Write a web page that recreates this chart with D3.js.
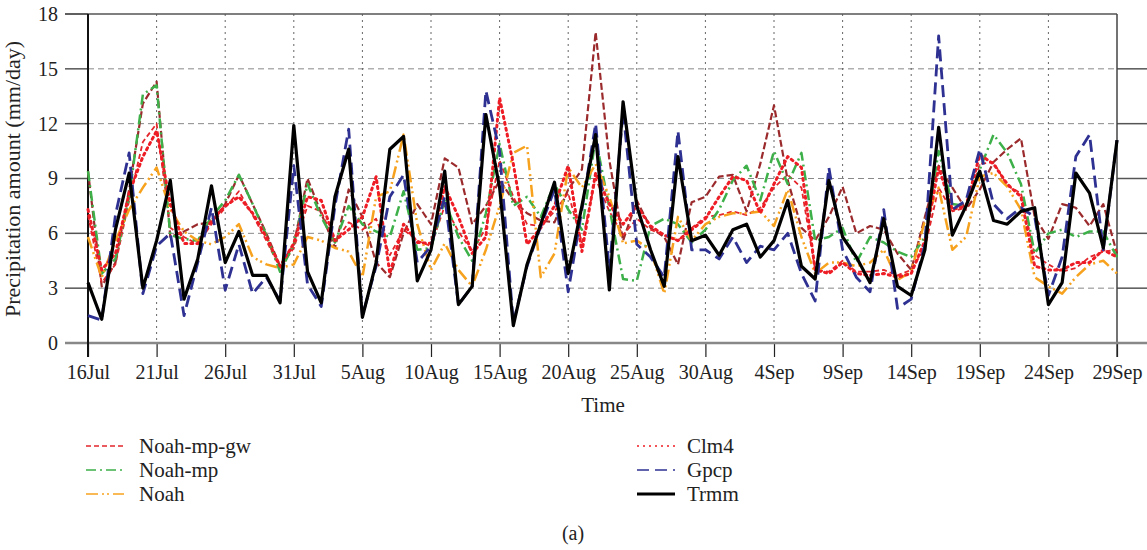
<!DOCTYPE html>
<html><head><meta charset="utf-8">
<script src="https://cdn.jsdelivr.net/npm/d3@7"></script>
<style>body{margin:0;background:#fff}svg{display:block}text{font-family:"Liberation Serif","Times New Roman",serif;fill:#222}</style>
</head><body><svg id="c" width="1147" height="550"></svg>
<script>
const tickLabels = ["16Jul","21Jul","26Jul","31Jul","5Aug","10Aug","15Aug","20Aug","25Aug","30Aug","4Sep","9Sep","14Sep","19Sep","24Sep","29Sep"];
const yTicks = [0,3,6,9,12,15,18];

const trmm = [3.3,1.3,6.2,9.3,3.0,5.6,8.9,2.4,4.6,8.6,4.4,6.1,3.7,3.7,2.2,11.9,3.9,2.2,8.0,10.6,1.4,4.4,10.6,11.3,3.4,5.1,9.4,2.1,3.1,12.5,8.5,0.95,4.3,6.5,8.8,3.8,7.5,11.4,2.9,13.2,7.5,5.1,3.1,10.2,5.6,5.9,4.8,6.2,6.5,4.7,5.6,7.8,4.2,3.5,8.9,5.8,4.7,3.3,6.8,3.1,2.6,5.1,11.8,5.9,7.5,9.4,6.7,6.5,7.2,7.4,2.1,3.3,9.3,8.2,5.2,11.1];
const gpcp = [1.5,1.25,7.0,10.4,2.7,5.3,6.0,1.5,4.4,7.4,2.9,5.4,2.7,3.6,2.3,9.7,3.2,2.0,7.5,11.7,1.5,4.2,8.0,9.2,4.4,5.3,8.0,2.1,3.1,13.8,10.5,1.1,4.2,6.4,8.4,2.8,7.3,12.0,4.0,12.7,5.4,4.7,3.6,11.6,5.1,5.1,4.6,5.8,4.4,5.3,5.1,6.0,3.8,2.3,9.6,5.1,3.6,2.8,7.3,1.9,2.4,5.4,16.8,7.3,7.8,10.6,7.6,6.8,7.4,6.9,2.6,4.7,10.2,11.4,5.1,11.1];
const noahMp = [9.4,3.8,4.6,8.0,13.6,14.1,5.9,5.7,5.6,6.9,7.8,9.2,7.6,5.9,3.9,5.4,8.7,6.9,5.5,7.5,6.5,6.1,5.8,8.3,5.1,5.2,7.8,5.8,4.5,7.1,10.9,7.5,8.0,6.9,8.7,7.3,6.2,11.2,7.4,3.5,3.4,6.4,6.8,6.5,5.5,6.2,7.3,8.9,9.7,7.8,10.5,8.7,10.4,5.6,5.8,6.3,4.4,5.8,5.5,5.0,4.7,5.8,10.5,7.6,7.5,9.5,11.4,10.4,8.7,4.9,6.0,6.2,5.8,6.1,6.1,4.7];
const brownSeries = [9.4,3.1,4.4,8.4,13.1,14.3,5.8,6.1,6.5,6.6,7.6,9.2,7.6,6.0,4.2,5.4,9.0,7.1,5.2,8.4,6.9,4.4,3.6,6.0,7.6,6.5,10.1,9.6,6.5,7.5,8.9,7.8,7.1,6.7,6.6,8.4,9.5,17.0,10.0,5.6,7.8,6.3,5.8,4.3,7.7,8.0,9.1,9.2,7.2,9.8,13.0,8.9,6.3,5.6,6.9,8.55,6.0,6.4,6.2,4.9,4.0,6.9,9.7,8.5,7.3,8.4,9.9,10.6,11.2,6.9,5.7,7.6,7.4,6.4,7.6,4.9];
const noah = [5.8,3.6,5.6,7.3,8.5,9.6,7.3,6.1,5.6,5.4,5.8,6.5,4.7,4.3,4.1,4.3,5.8,5.6,5.2,5.0,3.6,8.0,8.3,11.4,6.5,4.0,5.45,4.0,3.1,5.1,7.5,10.4,10.8,3.6,4.9,9.6,8.5,9.8,8.0,5.45,5.6,5.1,2.7,6.9,5.6,6.5,6.9,7.1,7.1,7.2,6.4,8.4,5.8,3.8,4.4,4.4,4.2,4.4,5.1,3.45,3.9,6.7,8.5,5.1,5.8,9.1,9.3,8.55,7.3,3.6,3.1,2.7,3.6,4.3,4.5,3.8];
const clm4 = [7.3,4.0,4.9,8.2,10.2,11.6,7.6,5.45,5.45,6.7,7.5,8.0,7.1,5.8,4.2,5.45,8.0,7.8,5.6,6.2,6.9,9.1,3.8,6.5,5.5,5.45,8.55,6.9,4.9,5.8,13.4,9.8,5.4,6.3,7.5,9.7,5.0,9.3,7.6,6.5,7.5,6.4,5.9,5.6,6.2,6.8,8.0,9.1,8.9,7.1,8.7,10.2,9.6,4.0,3.8,4.4,3.8,3.7,3.8,3.6,3.8,5.6,9.6,7.3,7.5,10.3,9.8,8.7,8.0,4.2,4.0,4.0,4.4,4.4,5.1,4.7];
const noahMpGw = [7.0,3.3,4.3,7.8,11.0,12.0,6.3,5.8,5.4,6.5,7.4,8.3,7.0,5.6,4.1,5.2,7.5,7.2,5.5,6.6,6.2,6.8,4.8,6.2,5.6,5.3,7.5,6.1,5.0,6.3,10.0,8.0,6.5,6.4,7.2,8.2,5.5,9.0,7.2,5.9,6.8,6.2,5.9,5.6,6.3,6.9,7.0,7.2,7.0,7.4,8.5,9.2,8.5,4.0,3.9,4.5,3.9,3.9,4.0,3.7,4.0,5.2,8.5,7.2,7.4,9.8,9.9,8.6,8.2,4.8,4.3,3.9,4.1,4.7,5.0,5.1];

const series = [
  {name:null, values:brownSeries, color:"#9b2a2c", width:2.2, dash:"7,3"},
  {name:"Noah-mp-gw", values:noahMpGw, color:"#e3262b", width:1.8, dash:"5,3"},
  {name:"Noah-mp", values:noahMp, color:"#3db049", width:2.5, dash:"10,4,2,4"},
  {name:"Noah", values:noah, color:"#f7a21e", width:2.5, dash:"12,4,2,3,2,4"},
  {name:"Clm4", values:clm4, color:"#ee1c24", width:3, dash:"2,4"},
  {name:"Gpcp", values:gpcp, color:"#2e3192", width:2.8, dash:"12,6"},
  {name:"Trmm", values:trmm, color:"#000", width:3.2, dash:null}
];

const svg = d3.select("#c");
const L=88, R=1117, T=14, B=343;
const x = d3.scaleLinear().domain([0,75]).range([L,R]);
const y = d3.scaleLinear().domain([0,18]).range([B,T]);

yTicks.forEach(v=>{
  if(v>0 && v<18) svg.append("line").attr("x1",L).attr("x2",R).attr("y1",y(v)).attr("y2",y(v)).attr("stroke","#888").attr("stroke-width",1).attr("stroke-dasharray","6,4");
  svg.append("line").attr("x1",65).attr("x2",L).attr("y1",y(v)).attr("y2",y(v)).attr("stroke","#555").attr("stroke-width",1.5);
  if(v>0 && v<18) svg.append("line").attr("x1",R).attr("x2",1147).attr("y1",y(v)).attr("y2",y(v)).attr("stroke","#555").attr("stroke-width",1.5);
});
const xt = d3.range(0,76,5);
xt.forEach(d=>{
  if(d>0 && d<75) svg.append("line").attr("x1",x(d)).attr("x2",x(d)).attr("y1",T).attr("y2",B).attr("stroke","#666").attr("stroke-width",1).attr("stroke-dasharray","2,4");
});
svg.append("line").attr("x1",65).attr("x2",R).attr("y1",T).attr("y2",T).attr("stroke","#555").attr("stroke-width",1.5);
svg.append("line").attr("x1",R).attr("x2",R).attr("y1",T).attr("y2",357).attr("stroke","#444").attr("stroke-width",1.5);

const xAxis = d3.axisBottom(x).tickValues(xt).tickFormat((d,i)=>tickLabels[i]).tickSize(14).tickPadding(8);
const gx = svg.append("g").attr("transform",`translate(0,${B})`).call(xAxis);
gx.select(".domain").remove();
gx.selectAll(".tick line").attr("stroke","#222").attr("stroke-width",1.2);
gx.selectAll(".tick text").attr("font-size",20).attr("font-family","Liberation Serif").attr("fill","#222");
const yAxis = d3.axisLeft(y).tickValues(yTicks).tickSize(0).tickPadding(30);
const gy = svg.append("g").attr("transform",`translate(${L},0)`).call(yAxis);
gy.select(".domain").remove();
gy.selectAll(".tick text").attr("font-size",20).attr("font-family","Liberation Serif").attr("fill","#222");

svg.append("line").attr("x1",65).attr("x2",1147).attr("y1",B).attr("y2",B).attr("stroke","#888").attr("stroke-width",2.5);
svg.append("line").attr("x1",L).attr("x2",L).attr("y1",T).attr("y2",357).attr("stroke","#111").attr("stroke-width",2);

const line = d3.line().x((d,i)=>x(i)).y(d=>y(d));
series.forEach(s=>{
  svg.append("path").datum(s.values).attr("d",line).attr("fill","none")
    .attr("stroke",s.color).attr("stroke-width",s.width)
    .attr("stroke-dasharray",s.dash).attr("stroke-linejoin","round")
    .attr("stroke-linecap", s.dash==="2,4" ? "round" : "butt");
});

svg.append("text").attr("transform","translate(20,179) rotate(-90)").attr("text-anchor","middle").attr("font-size",22).text("Precipitation amount (mm/day)");
svg.append("text").attr("x",603).attr("y",412).attr("text-anchor","middle").attr("font-size",21).text("Time");
svg.append("text").attr("x",573).attr("y",540).attr("text-anchor","middle").attr("font-size",20).text("(a)");

const legendItems = series.filter(s=>s.name);
const order = ["Noah-mp-gw","Noah-mp","Noah","Clm4","Gpcp","Trmm"];
order.forEach((n,k)=>{
  const s = legendItems.find(d=>d.name===n);
  const col = k<3?0:1, row = k%3;
  const lx = col===0?86:637, ly = 446+row*24;
  svg.append("line").attr("x1",lx).attr("x2",lx+38).attr("y1",ly).attr("y2",ly)
    .attr("stroke",s.color).attr("stroke-width",n==="Trmm"?3:1.5).attr("stroke-dasharray",s.dash);
  svg.append("text").attr("x",col===0?139:687).attr("y",ly+7).attr("font-size",21).text(n);
});
</script></body></html>
